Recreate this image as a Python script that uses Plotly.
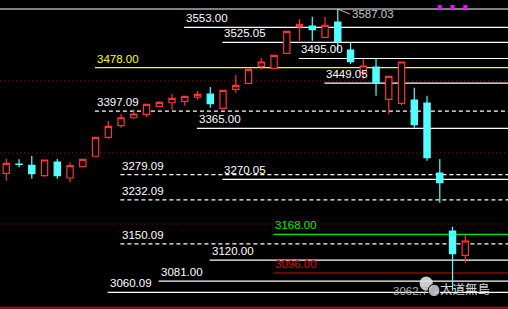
import plotly.graph_objects as go

# ---- candle data (index 0..36) ----
opens  = [3281.4, 3298.4, 3296.3, 3277.0, 3302.4, 3272.7, 3293.7, 3313.1, 3348.4, 3370.0,
          3384.8, 3391.2, 3406.1, 3412.7, 3415.4, 3423.3, 3428.9, 3402.3, 3437.7, 3448.8,
          3480.5, 3476.7, 3504.6, 3554.1, 3555.4, 3534.4, 3562.9, 3510.8, 3469.3, 3479.2,
          3419.1, 3411.6, 3417.8, 3412.2, 3282.0, 3174.1, 3128.9]
highs  = [3308.0, 3307.5, 3313.6, 3306.8, 3308.0, 3301.9, 3307.5, 3348.4, 3378.7, 3391.7,
          3400.5, 3409.8, 3415.4, 3429.5, 3424.7, 3434.5, 3442.0, 3435.8, 3464.3, 3474.9,
          3496.5, 3500.9, 3545.6, 3568.4, 3572.7, 3572.2, 3587.03, 3524.4, 3494.0, 3494.6,
          3461.9, 3488.5, 3440.6, 3425.8, 3308.0, 3182.1, 3166.7]
lows   = [3267.7, 3292.6, 3271.4, 3275.1, 3271.4, 3264.7, 3293.7, 3313.1, 3345.8, 3366.3,
          3383.0, 3385.6, 3406.1, 3399.7, 3407.2, 3418.3, 3403.4, 3402.3, 3431.3, 3448.8,
          3474.1, 3476.7, 3504.6, 3528.1, 3528.1, 3534.4, 3510.8, 3484.7, 3456.3, 3425.8,
          3391.2, 3407.9, 3366.3, 3304.9, 3226.7, 3062.74, 3115.1]
closes = [3300.0, 3298.2, 3280.7, 3306.2, 3277.0, 3295.6, 3307.5, 3348.4, 3368.8, 3384.8,
          3391.7, 3409.8, 3413.5, 3420.9, 3424.7, 3428.4, 3410.9, 3435.8, 3445.1, 3474.9,
          3488.5, 3500.9, 3545.6, 3558.6, 3548.5, 3556.7, 3526.2, 3489.0, 3481.0, 3449.05,
          3461.9, 3488.5, 3371.8, 3310.4, 3264.0, 3131.9, 3155.5]
idx = list(range(len(opens)))

# ---- price level lines ----
level_values = [3553.00, 3525.05, 3495.00, 3478.00, 3449.05, 3397.09, 3365.00, 3279.09,
                3270.05, 3232.09, 3168.00, 3150.09, 3120.00, 3096.00, 3081.00, 3060.09]
level_start  = [14, 17, 23, 7, 25, 7, 15, 9, 17, 9, 21, 9, 16, 21, 12, 8]
level_labels = ["3553.00", "3525.05", "3495.00", "3478.00", "3449.05", "3397.09", "3365.00",
                "3279.09", "3270.05", "3232.09", "3168.00", "3150.09", "3120.00", "3096.00",
                "3081.00", "3060.09"]
level_kind   = ["solid", "solid", "solid", "yellow", "solid", "dash", "solid", "dash",
                "solid", "dash", "green", "dash", "solid", "red", "solid", "solid"]

grid_values = [3453.1, 3319.2, 3187.1]
high_value, high_idx = 3587.03, 26
low_value, low_label, low_label_pos = 3062.74, "3062.74", 30.2
signal_idx = [34, 35, 36]
signal_value = 3590.8

XMIN, XMAX = -0.494, 39.35
YMIN, YMAX = 3029.0, 3603.8

kind_style = {
    "solid":  dict(color="#ffffff", dash="solid"),
    "dash":   dict(color="#ffffff", dash="4px,3px"),
    "yellow": dict(color="#ffff00", dash="solid"),
    "green":  dict(color="#00ee00", dash="solid"),
    "red":    dict(color="#e00000", dash="solid"),
}
kind_text = {"solid": "#ffffff", "dash": "#ffffff", "yellow": "#ffff00",
             "green": "#00ee00", "red": "#e00000"}

fig = go.Figure()

shapes = []
annotations = []
for v in grid_values:
    shapes.append(dict(type="line", xref="x", yref="y", x0=XMIN, x1=XMAX, y0=v, y1=v,
                       line=dict(color="#b00000", width=1, dash="1px,3px"), layer="below"))
shapes.append(dict(type="line", xref="x", yref="y", x0=XMIN, x1=XMAX, y0=high_value, y1=high_value,
                   line=dict(color="#ffffff", width=1.2), layer="below"))
for v, s, lab, k in zip(level_values, level_start, level_labels, level_kind):
    st = kind_style[k]
    shapes.append(dict(type="line", xref="x", yref="y", x0=s - 0.05, x1=XMAX, y0=v, y1=v,
                       line=dict(color=st["color"], width=1.2, dash=st["dash"]), layer="below"))
    annotations.append(dict(x=s - 0.05, y=v, xref="x", yref="y", text=lab, showarrow=False,
                            xanchor="left", yanchor="bottom", yshift=1,
                            font=dict(family="Liberation Sans", size=11.5, color=kind_text[k])))
# bottom red border
shapes.append(dict(type="line", xref="paper", yref="paper", x0=0, x1=1, y0=0.004, y1=0.004,
                   line=dict(color="#cc0000", width=2)))

fig.add_trace(go.Candlestick(
    x=idx, open=opens, high=highs, low=lows, close=closes,
    increasing=dict(line=dict(color="#ff3232", width=1.2), fillcolor="#000000"),
    decreasing=dict(line=dict(color="#54ffff", width=1.2), fillcolor="#54ffff"),
    whiskerwidth=0, showlegend=False, hoverinfo="skip"))

fig.add_trace(go.Scatter(x=signal_idx, y=[signal_value] * len(signal_idx), mode="markers",
                         marker=dict(symbol="square", size=4, color="#ff00ff"),
                         showlegend=False, hoverinfo="skip"))

# high label with pointer
annotations.append(dict(x=high_idx, y=high_value, xref="x", yref="y", text="3587.03",
                        showarrow=True, arrowhead=0, arrowcolor="#c0c0c0", arrowwidth=1,
                        ax=12, ay=5, xanchor="left", yanchor="middle",
                        font=dict(family="Liberation Sans", size=11.5, color="#c8c8c8")))
# low label
annotations.append(dict(x=low_label_pos, y=low_value, xref="x", yref="y",
                        text=low_label, showarrow=False, xanchor="left", yanchor="middle",
                        font=dict(family="Liberation Sans", size=11.5, color="#b0b0b0")))
# watermark
annotations.append(dict(x=0.968, y=0.03, xref="paper", yref="paper", text="太道無島",
                        showarrow=False, xanchor="right", yanchor="bottom",
                        font=dict(family="Noto Sans CJK SC", size=12.5, color="rgba(235,235,235,0.92)")))
shapes.append(dict(type="circle", xref="paper", yref="paper", x0=0.826, x1=0.852, y0=0.06, y1=0.105,
                   fillcolor="rgba(225,225,225,0.9)", line=dict(width=0)))
shapes.append(dict(type="circle", xref="paper", yref="paper", x0=0.843, x1=0.866, y0=0.04, y1=0.08,
                   fillcolor="rgba(200,200,200,0.9)", line=dict(color="#000000", width=1)))

fig.update_layout(
    width=508, height=309, margin=dict(l=0, r=0, t=0, b=0),
    paper_bgcolor="#000000", plot_bgcolor="#000000",
    xaxis=dict(range=[XMIN, XMAX], visible=False, rangeslider=dict(visible=False), fixedrange=True),
    yaxis=dict(range=[YMIN, YMAX], visible=False, fixedrange=True),
    boxgap=0.3, shapes=shapes, annotations=annotations, showlegend=False,
)
fig.write_html("out.html")
